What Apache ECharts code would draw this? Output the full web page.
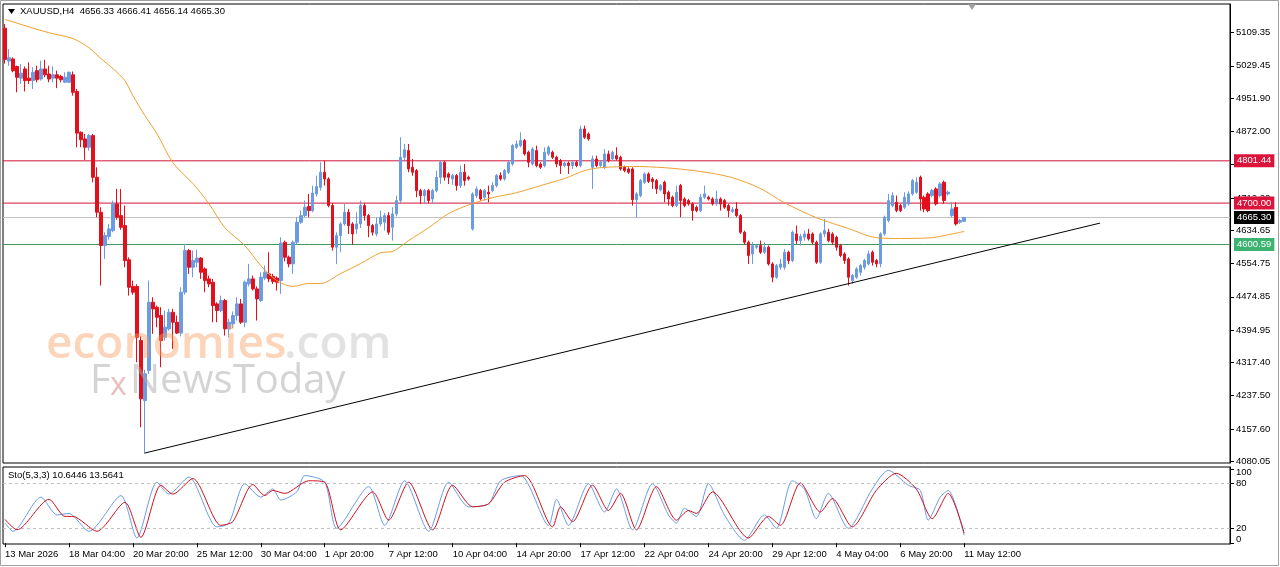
<!DOCTYPE html>
<html>
<head>
<meta charset="utf-8">
<script src="https://cdn.jsdelivr.net/npm/echarts@6/dist/echarts.min.js"></script>
<style>
  html, body { margin: 0; padding: 0; background: #fff; }
  #chart { width: 1280px; height: 567px; }
</style>
</head>
<body>
<div id="chart"></div>
<script>
// time axis labels, one every 16 bars (H4)
const timeLabels = ['13 Mar 2026', '18 Mar 04:00', '20 Mar 20:00', '25 Mar 12:00', '30 Mar 04:00', '1 Apr 20:00',
  '7 Apr 12:00', '10 Apr 04:00', '14 Apr 20:00', '17 Apr 12:00', '22 Apr 04:00', '24 Apr 20:00',
  '29 Apr 12:00', '4 May 04:00', '6 May 20:00', '11 May 12:00']
const priceTicks = [5109.35, 5029.45, 4951.90, 4872.00, 4792.10, 4712.20, 4634.65, 4554.75, 4474.85,
  4394.95, 4317.40, 4237.50, 4157.60, 4080.05]
const stoTicks = [0, 20, 80, 100]

// XAUUSD H4 candles
const open = [5120,5041,5046,5028,5000,5022,5000,4994,5018,4998,5022,5010,5000,5008,5004,4990,4990,5008,4968,4870,
  4854,4834,4862,4762,4678,4598,4620,4634,4698,4670,4646,4564,4500,4500,4370,4226,4298,4462,4450,4430,
  4378,4398,4438,4414,4388,4486,4586,4546,4558,4568,4542,4518,4510,4458,4442,4466,4398,4410,4430,4458,
  4414,4506,4518,4494,4466,4520,4530,4524,4520,4514,4606,4570,4554,4606,4654,4670,4692,4682,4722,4738,
  4774,4758,4694,4594,4622,4650,4678,4650,4638,4650,4694,4670,4646,4626,4650,4654,4670,4642,4674,4706,
  4810,4826,4786,4778,4730,4718,4730,4710,4730,4762,4798,4770,4758,4766,4742,4774,4762,4638,4718,4730,
  4714,4726,4730,4742,4766,4758,4774,4794,4834,4838,4850,4822,4794,4826,4794,4790,4818,4822,4810,4802,
  4790,4796,4790,4798,4790,4878,4866,4786,4806,4790,4786,4818,4806,4814,4810,4786,4782,4782,4708,4718,
  4750,4770,4758,4754,4732,4750,4726,4714,4694,4742,4710,4706,4698,4690,4682,4714,4714,4710,4698,4710,
  4706,4694,4680,4686,4670,4630,4606,4578,4594,4598,4582,4594,4554,4522,4546,4546,4582,4562,4626,4610,
  4618,4626,4626,4606,4558,4626,4630,4626,4618,4598,4578,4566,4514,4522,4534,4546,4554,4582,4562,4554,
  4626,4658,4694,4702,4694,4690,4698,4722,4726,4762,4714,4722,4718,4734,4718,4750,4722,4670,4690,4654,
  4656.33]
const high = [5130,5070,5050,5030,5034,5028,5038,5026,5030,5042,5044,5030,5028,5018,5008,5014,5016,5016,4974,4872,
  4866,4866,4866,4786,4690,4630,4650,4706,4734,4734,4694,4570,4514,4505,4380,4300,4514,4474,4454,4450,
  4442,4446,4446,4430,4498,4602,4590,4586,4588,4570,4546,4526,4518,4462,4478,4470,4422,4440,4474,4470,
  4514,4554,4526,4500,4534,4550,4582,4530,4524,4618,4610,4574,4610,4666,4682,4706,4722,4742,4766,4798,
  4802,4762,4700,4630,4654,4698,4686,4654,4678,4706,4700,4674,4650,4666,4682,4676,4678,4690,4718,4858,
  4842,4842,4806,4782,4734,4734,4734,4734,4778,4802,4802,4774,4770,4770,4790,4794,4766,4726,4740,4734,
  4734,4742,4750,4770,4774,4782,4802,4842,4850,4870,4854,4826,4834,4838,4798,4834,4838,4826,4814,4806,
  4800,4800,4802,4802,4886,4886,4870,4814,4814,4802,4830,4826,4826,4834,4814,4790,4786,4786,4726,4758,
  4774,4774,4762,4758,4746,4754,4730,4718,4742,4746,4714,4710,4702,4694,4722,4742,4718,4714,4730,4714,
  4710,4698,4690,4702,4674,4634,4610,4606,4602,4610,4606,4598,4558,4554,4566,4590,4586,4634,4646,4626,
  4634,4638,4630,4610,4630,4662,4638,4630,4622,4602,4582,4570,4530,4546,4554,4566,4586,4586,4566,4630,
  4670,4722,4726,4718,4698,4726,4728,4758,4762,4766,4718,4726,4734,4738,4750,4754,4730,4702,4702,4662,
  4666.41]
const low = [5035,5030,5014,4966,4986,4968,4986,4974,4990,4994,5002,4990,4990,4976,4990,4988,4988,4958,4834,4834,
  4804,4826,4750,4666,4502,4566,4612,4630,4660,4636,4546,4478,4480,4318,4162,4098,4290,4386,4402,4306,
  4370,4394,4350,4386,4380,4480,4530,4522,4546,4518,4486,4498,4414,4414,4438,4382,4378,4400,4418,4410,
  4402,4500,4490,4418,4462,4515,4510,4506,4490,4482,4560,4546,4530,4600,4650,4666,4666,4678,4716,4730,
  4742,4690,4586,4554,4582,4646,4626,4600,4626,4640,4658,4618,4622,4620,4644,4634,4624,4610,4668,4700,
  4800,4774,4766,4714,4698,4698,4700,4698,4726,4746,4754,4746,4744,4730,4736,4742,4754,4634,4712,4706,
  4706,4702,4726,4738,4754,4754,4770,4790,4830,4834,4814,4786,4790,4786,4782,4786,4814,4806,4786,4770,
  4786,4770,4782,4786,4786,4854,4850,4734,4786,4786,4782,4798,4802,4802,4778,4774,4770,4694,4666,4714,
  4746,4748,4734,4722,4728,4702,4694,4690,4690,4666,4690,4694,4658,4678,4678,4710,4706,4694,4694,4682,
  4686,4666,4676,4666,4626,4600,4554,4554,4590,4578,4578,4550,4510,4518,4540,4540,4554,4558,4602,4598,
  4610,4610,4600,4554,4554,4618,4606,4600,4586,4570,4554,4502,4506,4518,4526,4540,4550,4550,4546,4546,
  4622,4654,4690,4678,4678,4686,4694,4718,4722,4682,4678,4678,4714,4694,4714,4698,4718,4666,4646,4650,
  4656.14]
const close = [5045,5049,5018,5002,5012,4994,4994,5014,4996,5022,5008,4998,5008,5000,4996,5002,5014,4966,4868,4852,
  4834,4862,4762,4678,4598,4622,4638,4698,4666,4642,4562,4498,4486,4378,4230,4290,4462,4446,4426,4370,
  4402,4438,4414,4388,4486,4586,4546,4562,4568,4534,4514,4506,4454,4442,4466,4398,4414,4430,4458,4414,
  4510,4518,4494,4470,4522,4534,4518,4512,4510,4604,4570,4554,4606,4654,4670,4690,4682,4724,4740,4774,
  4758,4694,4594,4622,4650,4678,4646,4626,4650,4694,4670,4646,4630,4650,4666,4670,4630,4674,4706,4810,
  4828,4782,4774,4730,4718,4730,4706,4730,4762,4798,4762,4762,4766,4742,4774,4754,4758,4722,4734,4710,
  4730,4722,4742,4766,4758,4778,4798,4838,4842,4850,4818,4798,4830,4790,4786,4822,4834,4810,4794,4790,
  4796,4790,4798,4790,4878,4858,4854,4806,4790,4798,4818,4802,4822,4806,4782,4778,4774,4708,4722,4754,
  4770,4752,4752,4734,4742,4722,4710,4694,4726,4706,4694,4698,4682,4682,4714,4722,4710,4698,4710,4698,
  4690,4682,4684,4670,4630,4606,4574,4598,4598,4582,4594,4554,4522,4550,4554,4582,4562,4630,4610,4620,
  4626,4614,4606,4558,4626,4634,4610,4606,4594,4574,4562,4522,4526,4542,4550,4562,4578,4558,4554,4626,
  4666,4706,4718,4682,4682,4714,4722,4754,4750,4710,4686,4682,4730,4698,4746,4706,4726,4686,4650,4658,
  4665.30]

// orange moving average, [bar, price]
const maPoints = [[0,5141],[5,5126],[11,5109],[17,5095],[21,5073],[24,5047],[27,5023],[30,4994],[32,4958],
  [35,4910],[38,4867],[42,4797],[47,4747],[51,4699],[55,4641],[60,4598],[64,4550],[68,4514],[72,4500],
  [76,4507],[79,4507],[84,4531],[89,4555],[94,4581],[97,4584],[101,4610],[106,4641],[111,4675],[117,4699],
  [122,4713],[128,4725],[134,4742],[140,4759],[145,4778],[149,4785],[157,4788],[165,4785],[174,4776],
  [182,4761],[189,4735],[195,4701],[203,4665],[211,4639],[218,4617],[224,4615],[232,4617],[235,4622],[240,4632]]

// Stochastic (5,3,3): %K main and %D signal, [bar, value]
const stoK = [[0,27],[2,16],[9,62],[13,38],[16,40],[21,16],[29,64],[33,7],[38,82],[41,66],[46,89],[53,22],
  [56,27],[60,80],[64,62],[67,73],[69,58],[73,69],[75,91],[80,82],[83,20],[91,76],[95,24],[100,84],[106,16],
  [111,82],[116,49],[121,53],[124,84],[129,91],[136,24],[138,59],[141,24],[146,80],[150,42],[153,73],[157,18],
  [162,80],[166,38],[168,27],[170,47],[173,36],[176,80],[180,38],[185,4],[190,38],[193,20],[197,84],[200,73],
  [203,33],[206,67],[211,20],[217,73],[221,98],[226,78],[229,71],[231,31],[234,62],[236,71],[240,10.64]]
const stoD = [[0,32],[3,18],[11,59],[15,36],[17,36],[23,16],[30,55],[34,8],[39,78],[42,66],[47,87],[54,24],
  [57,29],[62,79],[65,64],[67,71],[70,67],[76,84],[80,82],[84,18],[92,69],[96,31],[101,82],[107,18],[112,78],
  [117,49],[121,53],[125,82],[130,91],[137,22],[139,49],[142,29],[147,78],[151,44],[154,67],[158,18],[163,76],
  [168,31],[171,44],[173,40],[177,69],[186,7],[191,36],[194,24],[199,81],[204,42],[207,60],[212,22],[218,71],
  [223,94],[228,73],[232,33],[236,67],[240,13.56]]

const resistHigh = 4801.44
const resistLow = 4700.00
const bidPrice = 4665.30
const supportLine = 4600.59
const trendStart = [35, 4100]
const trendEnd = [274, 4652]
const slots = 307   // bar slots incl. empty space on the right

const FONT = 'Liberation Sans'
const FS = 9.5
const UP = '#6b9be3', DOWN = '#e3101c'

const cats = []
for (let i = 0; i < slots; i++) cats.push(String(i))
const candles = open.map((o, i) => [o, close[i], low[i], high[i]])
const edges = ['l', 'r']   // two points on a hidden axis so levels span the whole panel

const chart = echarts.init(document.getElementById('chart'), null, { renderer: 'canvas' })

// horizontal price level, tag at its right end
function level(val, lineColor, tagColor) {
  return {
    type: 'line', xAxisIndex: 2, yAxisIndex: 0, z: 1, silent: true,
    data: edges.map(() => val), showSymbol: false,
    lineStyle: { color: lineColor, width: 1 },
    endLabel: {
      show: true, distance: 4, formatter: val.toFixed(2),
      color: '#fff', backgroundColor: tagColor, padding: [2, 3, 1, 3],
      fontFamily: FONT, fontSize: FS
    }
  }
}

const bottomShown = (i) => i % 16 === 0 && i <= 240

chart.setOption({
  animation: false,
  backgroundColor: '#ffffff',
  textStyle: { fontFamily: FONT },
  grid: [
    { left: 3, top: 4, width: 1227, height: 459, show: true, borderColor: '#000', borderWidth: 1, backgroundColor: 'transparent' },
    { left: 3, top: 467, width: 1227, height: 77, show: true, borderColor: '#000', borderWidth: 1, backgroundColor: 'transparent' }
  ],
  xAxis: [
    { type: 'category', gridIndex: 0, data: cats, boundaryGap: true,
      axisLine: { show: false }, axisTick: { show: false }, axisLabel: { show: false }, splitLine: { show: false } },
    { type: 'category', gridIndex: 1, data: cats, boundaryGap: true,
      axisLine: { show: false },
      axisTick: { show: true, alignWithLabel: true, length: 4, lineStyle: { color: '#000' }, interval: bottomShown },
      axisLabel: { show: true, align: 'left', margin: 5, color: '#000', fontSize: FS, fontFamily: FONT,
        interval: bottomShown,
        formatter: (v, i) => timeLabels[Math.round(i / 16)] || '' },
      splitLine: { show: false } },
    { type: 'category', gridIndex: 0, data: edges, boundaryGap: false, show: false }
  ],
  yAxis: [
    { type: 'value', gridIndex: 0, position: 'right', min: 4076, max: 5178,
      axisLine: { show: true, lineStyle: { color: '#000' } },
      axisTick: { show: true, length: 4, customValues: priceTicks, lineStyle: { color: '#000' } },
      axisLabel: { customValues: priceTicks, color: '#000', fontSize: FS, fontFamily: FONT, margin: 6,
        hideOverlap: false, formatter: (v) => v.toFixed(2) },
      splitLine: { show: false } },
    { type: 'value', gridIndex: 1, position: 'right', min: -1.1, max: 102.5,
      axisLine: { show: true, lineStyle: { color: '#000' } },
      axisTick: { show: true, length: 4, customValues: stoTicks, lineStyle: { color: '#000' } },
      axisLabel: { customValues: stoTicks, color: '#000', fontSize: FS, fontFamily: FONT, margin: 6,
        hideOverlap: false, showMinLabel: true, showMaxLabel: true,
        formatter: (v) => v === 100 ? '{t|100}' : v === 0 ? '{b|0}' : String(v),
        rich: { t: { padding: [8, 0, 0, 0], fontSize: FS, fontFamily: FONT }, b: { padding: [0, 0, 8, 0], fontSize: FS, fontFamily: FONT } } },
      splitLine: { show: false } }
  ],
  series: [
    level(resistHigh, '#d2143a', '#dc143c'),
    level(resistLow, '#d2143a', '#dc143c'),
    level(bidPrice, '#c0c0c0', '#000000'),
    level(supportLine, '#3c9a5a', '#3cb371'),
    { type: 'candlestick', xAxisIndex: 0, yAxisIndex: 0, data: candles, barWidth: 3, z: 2,
      itemStyle: { color: UP, color0: DOWN, borderColor: UP, borderColor0: DOWN, borderWidth: 1 } },
    { type: 'line', xAxisIndex: 0, yAxisIndex: 0, data: [], z: 3,
      markLine: { silent: true, symbol: 'none', animation: false, label: { show: false },
        lineStyle: { color: '#000', width: 1, type: 'solid' },
        data: [[{ coord: [trendStart[0], trendStart[1]] }, { coord: [trendEnd[0], trendEnd[1]] }]] } },
    { type: 'line', xAxisIndex: 0, yAxisIndex: 0, data: maPoints, showSymbol: false, smooth: 0.3,
      lineStyle: { color: '#f0a030', width: 1 }, z: 3 },
    { type: 'line', xAxisIndex: 1, yAxisIndex: 1, data: stoK, showSymbol: false, smooth: 0.25,
      lineStyle: { color: '#6b9be3', width: 1 },
      markLine: { silent: true, symbol: 'none', label: { show: false },
        lineStyle: { color: '#c0c0c0', type: [3, 3], width: 1 },
        data: [{ yAxis: 20 }, { yAxis: 80 }] } },
    { type: 'line', xAxisIndex: 1, yAxisIndex: 1, data: stoD, showSymbol: false, smooth: 0.25,
      lineStyle: { color: '#d0101e', width: 1 } }
  ],
  graphic: [
    { type: 'polygon', shape: { points: [[8, 9], [15, 9], [11.5, 14]] }, style: { fill: '#000' } },
    { type: 'text', left: 20, top: 6, style: { text: 'XAUUSD,H4  4656.33 4666.41 4656.14 4665.30', fill: '#000', font: FS + 'px ' + FONT } },
    { type: 'text', left: 8, top: 470, style: { text: 'Sto(5,3,3) 10.6446 13.5641', fill: '#000', font: FS + 'px ' + FONT } },
    { type: 'polygon', shape: { points: [[968, 4], [976, 4], [972, 10]] }, style: { fill: '#a0a0a0' } },
    { type: 'text', left: 46, top: 322, z: 50,
      style: { text: 'economies', fill: 'rgba(248,160,100,0.45)', font: '600 46px "Open Sans"' } },
    { type: 'text', left: 284, top: 322, z: 50,
      style: { text: '.com', fill: 'rgba(190,190,190,0.45)', font: '600 46px "Open Sans"' } },
    { type: 'text', left: 90, top: 362, z: 50,
      style: { text: 'F', fill: 'rgba(170,170,170,0.5)', font: '40px "Open Sans"' } },
    { type: 'text', left: 110, top: 370, z: 50,
      style: { text: 'x', fill: 'rgba(210,110,110,0.45)', font: '32px "Open Sans"' } },
    { type: 'text', left: 130, top: 362, z: 50,
      style: { text: 'NewsToday', fill: 'rgba(170,170,170,0.5)', font: '40px "Open Sans"' } },
    { type: 'rect', shape: { x: 0.5, y: 0.5, width: 1278, height: 565 }, style: { fill: 'none', stroke: '#a0a0a0', lineWidth: 1 } }
  ]
})
</script>
</body>
</html>
